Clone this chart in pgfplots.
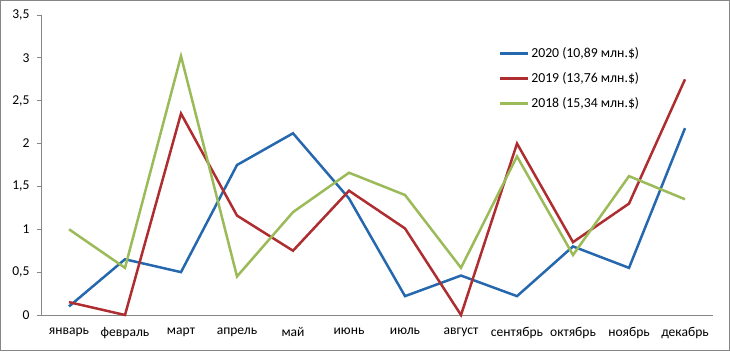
\documentclass[border=0pt]{standalone}
\usepackage{pgfplots}
\pgfplotsset{compat=1.18}
\usepackage{fontspec}
\setmainfont{Carlito}
\definecolor{cblue}{HTML}{2568AE}
\definecolor{cred}{HTML}{AE2D30}
\definecolor{cgreen}{HTML}{9BBB59}
\definecolor{axgray}{HTML}{868686}
\begin{document}
\begin{tikzpicture}[x=1bp,y=1bp]
\begin{axis}[
  at={(0,0)}, anchor=south west,
  scale only axis, width=672bp, height=300bp,
  xmin=-0.5, xmax=11.5, ymin=0, ymax=3.5,
  axis x line=bottom, axis y line=left,
  axis line style={axgray, line width=0.8bp, -},
  xtick={0,...,11},
  xticklabels={январь,февраль,март,апрель,май,июнь,июль,август,сентябрь,октябрь,ноябрь,декабрь},
  ytick={0,0.5,...,3.5},
  yticklabels={0,{0,5},1,{1,5},2,{2,5},3,{3,5}},
  x tick style={draw=none},
  y tick style={axgray, line width=0.8bp},
  tick align=outside, major tick length=4bp,
  tick label style={font=\fontsize{13.6}{15}\selectfont, black},
  xticklabel style={yshift=-5bp},
  yticklabel style={xshift=-4bp},
  legend style={draw=none, fill=none, at={(0.678,0.905)}, anchor=north west,
    font=\fontsize{13.8}{15}\selectfont, row sep=9.5bp, legend cell align=left,
    inner sep=2bp},
  legend image code/.code={\draw[#1, line width=2.5bp] (0bp,0bp) -- (28bp,0bp);},
  clip=false,
]
\addplot[cblue, line width=2.5bp] coordinates {(0,0.1)(1,0.65)(2,0.5)(3,1.75)(4,2.12)(5,1.36)(6,0.22)(7,0.46)(8,0.22)(9,0.8)(10,0.55)(11,2.18)};
\addlegendentry{2020 (10,89 млн.\$)}
\addplot[cred, line width=2.5bp] coordinates {(0,0.15)(1,0)(2,2.35)(3,1.16)(4,0.75)(5,1.45)(6,1.01)(7,0)(8,2.0)(9,0.85)(10,1.3)(11,2.75)};
\addlegendentry{2019 (13,76 млн.\$)}
\addplot[cgreen, line width=2.5bp] coordinates {(0,1.0)(1,0.55)(2,3.02)(3,0.45)(4,1.2)(5,1.66)(6,1.4)(7,0.55)(8,1.85)(9,0.7)(10,1.62)(11,1.35)};
\addlegendentry{2018 (15,34 млн.\$)}
\end{axis}
\draw[axgray, line width=1bp] (-40.5,-35.5) rectangle (688.5,314.5);
\pgfresetboundingbox
\useasboundingbox (-41,-36) rectangle (689,315);
\end{tikzpicture}
\end{document}
